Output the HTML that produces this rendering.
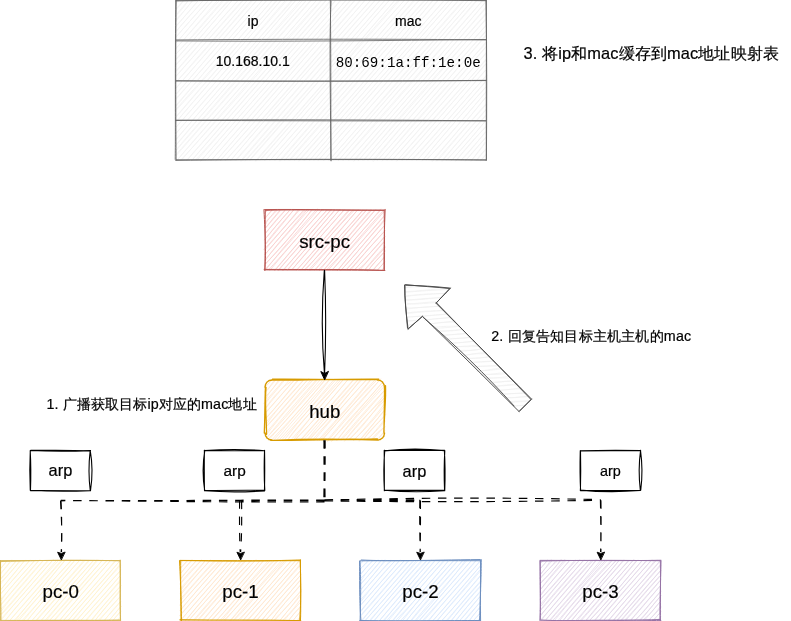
<!DOCTYPE html>
<html><head><meta charset="utf-8"><style>
html,body{margin:0;padding:0;background:#fff;width:791px;height:621px;overflow:hidden}
body{position:relative;font-family:"Liberation Sans",sans-serif;color:#000}
svg{position:absolute;left:0;top:0;will-change:transform}
.t{position:absolute;white-space:nowrap;line-height:1}
.c{transform:translateX(-50%)}
.m{font-family:"Liberation Mono",monospace}
</style></head><body>
<svg width="791" height="621" viewBox="0 0 791 621" stroke-linecap="round" stroke-linejoin="round">
<path d="M176.05 3.33C176.62 2.71 177.52 1.54 178.81 0.49M175.93 3.53C177.03 2.4 177.97 1.33 178.52 0.55M176.42 9.11C178.66 6.86 181.04 4.16 183.39 0.84M175.77 8.93C177.97 6.88 180.27 4.19 183.4 0.5M176.16 15.55C179.81 11.62 183.58 7.78 188.74 -0.14M176.07 14.98C180.28 9.73 185.24 3.9 188 0.83M175.82 19.72C182.56 12.98 190.61 3.6 193.55 -0.41M176.48 20.43C182.48 13.32 187.51 6.76 192.85 0.2M175.08 26.8C181.86 19.86 189.28 11.5 198.14 0.54M176.12 26.5C183.29 17.57 190.81 8.98 198.02 0.98M175.83 31.86C183.28 22.57 192.75 11.97 203.38 0.43M176.24 31.22C184.72 21.34 194.73 10.44 203.08 0.59M175.74 37.53C184.11 27.43 193.5 17 208.16 0.97M175.74 37.03C184.43 27.79 192.48 17.76 207.86 0.83M175.67 43.28C187.24 30.78 196.55 17.9 212.99 -0.12M175.78 43.29C189.34 28.05 202.39 12.03 212.72 0.79M175.84 48.44C187.55 35.73 196.35 25.07 218.59 1.47M175.72 48.86C188.12 34.8 199.8 20.62 217.67 0.23M176.62 53.35C186.74 43.26 196.77 32.18 223.53 0.65M175.8 54.42C185.36 43.43 195.25 32.74 222.57 0.25M175.7 59.29C195.31 38.27 213.81 16.1 228.48 1.11M176.36 59.45C194.89 37.94 213.98 16.43 227.61 0.78M175.25 64.68C188.57 53.43 198.12 39.69 232.17 0.13M175.86 65.23C191.01 47.54 206.52 30.55 232.42 0.08M176.57 70.94C191.17 54.7 204.92 37.54 237.43 0.91M175.75 71.21C193.51 50.69 210.7 30.97 237.82 0.94M175.52 76.75C193.18 56.28 212.49 35.45 242.93 0.84M176.09 76.32C198.6 50.89 221.5 23.75 241.94 0.88M175.24 83.15C193.54 63.56 210.9 43.72 247.84 -0.43M175.61 82.71C201.61 52.89 226.18 24.43 247.57 0.24M176.51 87.88C193.92 67.13 211.85 46.51 251.31 0.5M175.66 88.29C206.38 53.52 236.19 18.76 252.29 0.9M176.83 93.77C194.89 72.54 213.01 50.21 256.45 0.67M176.45 93.53C197.77 68.98 219.23 44.63 256.82 0.22M175.34 99.1C193.25 79.79 210.48 59.99 261.91 0.7M176.06 99.36C201.13 70.43 226.04 41.27 262.41 0.47M176.35 105.93C199.33 78.6 220.34 52.93 266.23 0.91M176.37 104.83C209.28 66.62 242.71 27.13 267.19 0.29M175.01 110.33C201.77 80.57 227.3 50.88 272.67 0.28M176.17 110.27C206.38 77.26 235.17 43.26 271.63 0.77M176.31 116.91C211.15 75.93 247.92 35.07 276.73 -0.27M176.18 116.36C205.93 81.63 236.45 46.56 277.05 0.66M175.66 122.38C199.38 95.15 223.19 67.67 281.19 -0.15M176.04 122.18C198.16 95.48 220.74 70.13 281.1 0.5M175.67 127.38C203.3 96.58 230.47 65.04 285.69 0.04M176.23 127.26C200.48 99.24 225.32 71.69 286.71 0.59M176.06 133.35C201.99 102.64 229.6 71.77 291.97 1.28M176.08 133.35C221.61 81.6 265.91 30.03 291.35 0.6M176.32 138.84C218.27 90.67 259.15 43.02 295.34 0.5M176.46 139.25C215.3 93.52 255.38 47.24 296.13 0.23M175.65 145.24C203.32 112.18 230.63 82.08 302.03 0.93M176.43 144.86C219.72 94.27 263.32 43.52 300.72 0.08M176.4 150.21C207.58 114.52 238.57 78.22 306.59 0.3M175.87 150.01C206.14 114.61 236.55 78.69 305.78 0.78M175.48 155.19C206.75 120.04 236.95 84.42 310.39 0.48M175.92 155.96C204.87 122.84 233.78 89.6 311.39 0.25M177.01 160.23C206.61 125.1 238.11 90.48 316.39 0.44M176.59 160.78C230.96 98.82 284.25 37.26 316.29 0.58M181.12 159.68C209.49 129.16 238.9 96.24 321.62 0.46M181.29 160.33C231.37 102.64 281.09 44.35 321.09 0.16M187.35 159.93C225.92 116.22 264.75 71.42 326.43 0.26M186.58 160.3C226.04 115.08 265.78 69.8 325.59 0.49M191.44 160.95C223.62 123.45 254.94 87.84 330.84 1.17M191.71 160.35C243.54 99.73 295.65 40.59 330.24 0.56M195.95 159.71C227.26 125.05 258.91 88.41 335.02 1.32M196.65 160.59C230.51 121.59 263.92 82.23 335.12 0.79M200.78 161.19C232.2 124.27 263.38 89.31 340.6 0.75M201.4 160.45C249.44 104.62 298.86 48.24 340.13 0.53M205.94 160.47C245.86 114.26 287.76 67.17 345.56 0.69M206.06 160.44C239.83 120.79 273.67 82.57 345.49 0.83M211.18 160.36C267 97.11 322.27 32.8 350.68 0.34M211.49 160.22C265.72 97.04 321.46 32.94 350.32 0.1M215.74 160.93C265.31 104.36 312.72 48.54 354.94 -0.24M216.43 160.92C248.05 123.24 279.51 86.28 355.07 0.52M220.54 160.44C264.69 111.26 306.55 60.92 360.54 -0.36M220.62 160.1C252.09 124.49 283.79 88.46 360.25 0.92M225.7 160.22C254.27 128.05 283.14 94.52 364.46 1.03M225.76 160.61C265.76 116.04 305.33 70.07 364.59 0.73M230.81 160.11C279.91 101.98 330.52 46.27 370.52 0.44M230.81 160.42C276.46 106.53 322.5 53.69 370.24 0.54M236.16 160.42C275.81 114.89 313.85 70.47 374.56 1.12M235.21 160.57C285.9 101.87 336.5 43.58 375.07 0.15M241.22 161.31C287.38 106.55 334.29 53.12 379.41 1.08M240.92 160.34C277.37 117.64 313.75 75.49 380.04 0.13M245.48 160.93C280.66 121.89 314.83 81.44 384.13 1.31M245.23 160.54C275.11 126.07 305.65 91.77 384.87 0.22M249.7 159.72C305.98 95.98 360.41 33.35 390.08 -0.29M249.99 160.4C305.26 97.71 359.05 34.84 389.09 0.37M256.01 161.37C309.94 99.15 362.11 39.11 394.29 0.86M255.45 160.75C292.5 118.63 329.01 76.59 394.35 0.79M260.75 159.94C294.21 122.15 326.21 82.73 398.7 -0.29M259.8 160.07C315.62 96.99 370.76 33.59 399.25 0.73M264.42 160.68C295.06 125.62 325.54 90.33 403.88 0.68M265.34 160.31C319.94 96.48 374.28 33.31 404.33 0.36M269.86 160.46C316.07 107.94 362.64 54.68 408.93 0.71M270.19 160.11C300.1 125.76 329.96 91.52 408.78 0.54M275.22 160.26C326.99 99.78 379.57 39.26 414.2 1.16M274.73 160.6C319.1 109.77 363.33 59.25 413.52 0.53M280.33 161.09C333.87 98.62 386.91 36.58 419.5 0.29M279.48 160.78C320.33 113.18 360.86 66.21 418.4 0.79M284.67 160.38C318.12 123.04 350.71 84.17 424.58 0.84M285.08 160.12C314.44 125.5 344.95 91.19 424.02 0.35M289.03 160.31C328.18 114.88 367.54 69.99 428.68 0.63M289.87 160.53C319.93 126.23 350.45 91.11 428.38 0.32M294.67 160.24C348.29 100.39 401.3 39.29 433.02 -0.27M294.78 160.25C334.86 115.41 374.1 69.54 433.45 0.25M299.15 161.12C333.6 121.75 365.84 84.37 437.88 0.06M299.02 160.25C334.18 120.33 369.15 80.02 438.19 0.65M304.07 160.57C349.66 108.92 394.15 56.41 443.85 1.13M304.61 160.66C345.36 113.38 387.48 65.28 443.78 0.49M309.57 160.65C340.96 123.03 375.05 85.22 448.32 1.14M309.45 160.24C349.06 114.34 389.7 67.64 448.59 0.84M314.5 160.13C355.4 111.08 399.55 61.17 453.11 0.62M313.97 160.16C348.6 120.27 383.52 80.15 453.06 0.23M318.18 160.47C357.51 115.93 396.62 70.15 458.12 1.24M318.59 160.3C370.76 101.22 422.56 41.43 458.03 0.44M324 160.52C357.8 120 394.3 80.61 463.37 1.21M323.63 160.46C354.56 124.89 384.93 89.59 463.1 0.3M329.2 160.51C371.25 111.64 413.43 63.06 467.94 0.65M328.9 160.25C368.25 116.49 407.04 72.37 468.06 0.39M334.42 159.98C362.02 127.65 392.07 93.39 473.18 -0.12M333.38 160.18C376.5 111.3 419.02 61.12 472.39 0.75M338.77 160.08C377.68 114.51 415.63 71.23 477.09 -0.32M338.23 160.77C380.96 111.61 423.24 62.9 477.51 0.26M343.01 160.35C382.75 113.89 423.99 67.81 482.74 0.13M343.21 160.56C372.45 128.13 401.25 95.25 482.77 0.52M348.9 160.5C387.21 116.62 427.32 70.91 485.89 1.53M348.82 160.17C403.88 97.34 458.69 34.42 485.92 1.76M353.95 161.23C392.27 115.57 431.84 70.22 485.64 7.48M353.7 160.09C383.6 126.13 412.87 92.03 486.03 8.07M358.54 160.52C397.48 115.69 434.25 72.67 486.85 13.31M358.15 160.6C401.36 110.13 445.81 59.77 485.97 13.23M364 160.45C395.66 121.48 428.74 82.9 486.17 19.33M362.77 160.5C393.81 126.27 424.64 90.62 485.93 18.65M368.44 160.04C407.99 113.07 448.84 66.78 486.28 25.2M367.87 160.5C393.62 130.26 419.63 100.74 486.22 25.16M373.32 161.46C398.68 129.63 427.22 97.24 486.19 31.28M372.83 160.15C401.4 126.72 430.85 92.56 485.94 30.82M377.43 160.27C406.49 128.36 431.84 98.36 485.49 35.47M377.63 160.3C419.78 111.87 462.06 63.49 486.01 35.83M383.34 159.64C419.65 115.97 457.43 73.83 486.81 42.5M382.26 160.9C415.11 123.34 447.97 86.23 486.42 41.48M387.4 160.19C421.12 122.61 453.08 83.98 486.15 46.36M387.43 160.11C424.43 118.5 461.35 75.93 485.79 47.29M392.47 159.74C425.17 122.68 459.05 83.49 486.03 53.64M392.02 160.54C418.35 131.04 444.04 101.43 486.22 52.63M396.76 161.09C432.43 118.95 468.1 80.08 486.69 59.34M397.02 160.76C432.89 120.5 468.31 80.4 486.18 58.96M401.49 159.67C429.29 129.92 454.88 99.6 485.42 64.66M402.03 160.7C419.91 140.27 437.3 120.37 485.51 63.92M407.39 159.76C431.69 132.76 455.25 105.36 485.27 70.32M406.95 160.16C435.65 127.98 463.5 95.44 486.2 69.69M411.71 159.65C432.49 138.04 451.57 114.67 486.92 75.37M412.22 160.36C430.88 140.08 448.37 119.41 486.1 75.62M417.68 159.88C438.2 136.37 458.95 112.19 485.97 81.03M416.65 160.56C440.94 133 464.16 106.04 486.46 81.1M422.55 160.84C441.14 137.2 462.18 113.33 486.58 86.42M421.92 160.86C438.42 141.22 454.54 122.36 485.86 86.82M426.14 159.69C443.81 142.59 458.53 124.51 486.27 91.55M426.47 160.29C447.48 136.72 468.78 112.6 485.65 92.35M432.41 161.36C450.87 139.25 469.9 117.3 485.61 97.31M431.97 160.4C444.73 146.24 457.35 131.59 485.54 97.83M437.39 160.98C451.04 145.26 463.41 129.34 486.5 104.34M436.36 160.88C449.74 145.03 463.75 129.02 486.07 103.68M442.27 161.27C458.12 141.04 476.9 121.29 486.52 109.13M441.79 160.57C452.51 148.14 462.71 136.35 486.16 109.22M446.47 160.07C459.77 147.01 471.68 131.59 485.39 115.45M446.65 160.52C460.66 144.11 475.15 127.58 486.25 115.47M451.65 160.66C459.72 150.55 467.3 142.87 486.17 120.25M451.09 160.93C463.02 147.55 474.19 134.55 486.02 120.29M455.41 161.14C466.23 147.83 478.24 134.1 485.84 127.04M456.1 160.9C465.87 148.86 476.11 137.73 485.75 126.54M461.32 160.2C467.19 154.68 472.38 147.91 485.64 131.72M460.84 160.23C471.2 148.93 480.48 138.11 485.67 132.38M465.46 161.07C471.59 153.2 476.66 147.48 486.12 137.15M465.63 160.35C473.81 152.1 480.4 143.42 486.14 137.32M471.19 161.14C476.41 153.05 481.73 147.63 485.05 142.4M471.28 160.56C476.62 154.47 481.67 148.03 485.52 142.77M476.58 160.62C478.76 158.23 480.5 155.3 486.71 148.46M476.08 160.43C478.18 157.53 480.18 155.14 486.19 148.51M480.54 160.76C483.06 158.51 484.8 155.98 485.83 154.73M480.58 160.68C481.82 158.98 482.96 157.63 485.91 154.55M485.67 160.51C485.79 160.33 485.91 160.19 485.98 160.12M485.66 160.49C485.74 160.4 485.83 160.29 486.01 160.1" fill="none" stroke="#f2f2f2" stroke-width="0.85" />
<path d="M176.04 0.86C297.88 -0.92 419.27 -0.37 485.95 0.73M175.74 0.65C294.46 0.12 412.37 -0.43 486.34 0.41M485.88 0.62C487.12 54.98 486.73 108.93 486.42 160.21M486.47 0.61C486.37 56.08 486.2 111.46 486.34 160.21M485.83 159.99C370.59 158.84 254.92 159.25 175.7 160.41M485.67 159.98C419.45 159.39 352.77 159.61 176.2 159.75M175.21 159.36C175.67 127.3 175.01 96.25 175.7 0.81M176.13 159.81C175.67 98 175.62 35.69 176.25 0.2M175.64 40.9C281.63 41.69 388.58 40.61 486.19 39.49M176.28 39.94C290.59 39.01 405.5 38.97 485.69 39.92M175.92 80.77C291.12 81.73 406.26 81.06 486.52 80.33M176.28 80.93C248.7 80.99 321.29 81.38 485.96 80.59M175.47 120.48C249.13 119.6 321.9 119.42 485.56 120.86M176.3 120.19C293.37 121.04 411.45 121 485.72 120.74M331.08 1.01C329.4 38.09 330.05 73.29 331.08 160.86M330.33 0.3C330.71 33.86 330.92 67.69 330.86 160.21" fill="none" stroke="#666666" stroke-width="0.85" />
<path d="M265 212.97C265.65 212.03 266.63 211.23 267.38 209.92M264.9 213.04C265.65 212.32 266.13 211.58 267.45 210.01M264.44 218.08C266.45 216.82 268.04 214.86 272.06 210.19M265.29 218.32C267.2 215.6 268.97 213.22 271.8 210.16M265.89 223.97C267.22 219.03 272.22 215.81 277.49 209.8M264.78 222.9C267.3 220.86 270.19 217.19 276.32 209.61M265.13 228.37C267.67 225.13 270.94 221.02 280.22 209.83M265.33 228.27C269.37 223.6 272.73 219.82 281.22 209.56M265.6 233.29C272.81 223.37 280.54 215.07 285.01 210.22M264.98 233.75C271.06 226.72 275.92 221.03 285.92 209.72M264.33 239.84C271.73 232.09 276.69 224.13 289.06 211.02M265.36 238.95C270.92 231.41 277.6 224.15 289.78 210.07M265.92 243.38C274.85 230.99 286.76 217.92 293.87 209.71M265.43 244.56C274.61 233.59 283.83 222.28 294.07 209.47M263.95 249.51C277.9 234.57 290.56 220.18 298.15 210.1M265.22 249.54C277.13 235.34 288.72 222.32 299.5 209.91M265.27 254.14C278.82 238.71 291.54 222.87 304.68 210.84M265.09 254.33C278.77 238.49 292.01 223.09 303.7 209.98M265.25 260.5C274.96 246.31 285.66 235.57 307.44 209.27M265.43 259.39C281.52 240.38 297.69 222.15 308.55 210.42M264.2 264.75C278.87 250.46 291.78 235.52 312.11 209.27M264.91 264.9C278.94 248.82 293.13 233.67 312.55 209.53M265.46 270.1C275.08 258.48 285.2 244.67 317.01 208.95M264.5 270.09C284.18 248.36 303.48 226.62 317.61 210.2M268.38 269.94C282.45 255.09 293.99 241.06 322.05 210.04M269.78 270.45C285.67 251.16 303.21 230.91 321.56 210.14M274.8 270.65C294.94 246.96 314.22 223.47 326.61 210.7M274.4 270.53C291.47 250.51 308.39 230.57 326.57 210.39M278.58 270.59C292.78 252.81 307.55 236.71 331.28 209.28M278.08 270.02C292.45 254.56 306.34 238.66 330.61 210.49M282.51 270.5C294.79 257 306.57 244.05 334.71 209.74M283.36 270.52C301.98 248.1 320.87 225.92 335.13 210.12M287.26 270.66C298.03 257.64 309.03 244.37 339.72 209.81M287.45 269.59C307.54 247 328.46 223.14 339.43 209.66M292.6 268.95C307.9 250.2 325.87 230.99 343.82 210.26M291.99 269.73C303.02 256.99 314.81 243.56 344.04 210.03M296.79 270.07C309.55 256.25 321.66 241.5 349.17 210.68M296.95 269.69C317 247.7 335.9 224.16 348.89 209.74M301.63 269.18C312 257.29 322.6 243.06 353.55 210.91M301.27 270C321.98 246.03 341.84 222.32 352.64 210.06M304.8 269.35C322 253.1 337.99 232.96 356.69 210.99M305.46 270.02C320.5 252.67 335.29 235.23 358.03 209.65M309.33 269.26C325.04 251.54 341.04 235.82 362.61 210.79M310.01 270.53C327.4 250.12 344.51 231.11 362.46 210.35M314.93 270.59C329.49 252.71 344.06 235.1 366.31 209.93M314.64 269.71C325.63 257.98 335.51 245.84 366.74 210.04M319.45 270.58C334.23 252.19 347.93 237.09 370.63 209.78M318.57 269.73C330.62 257.52 341.14 245.37 371.24 210.54M323.73 270.57C339.4 251.53 356.74 230.87 374.95 209.99M323.43 270.03C340.72 250.26 357.19 231.25 375.74 209.76M327.46 268.99C345.31 250.24 363.73 229.95 380.72 209.01M328.47 269.92C348.45 246.9 368.94 222.54 380.66 210.25M332.75 269.15C347.75 252.16 362.09 233.72 384.56 209.38M332.26 270.09C347.33 253.08 362.45 236.07 385 210.47M337.66 270.27C348.71 255.77 361.18 242.89 384.7 215.69M337.56 270.46C354.28 250.48 370.03 231.58 384.42 215.53M340.63 270.39C351.1 259.59 360.18 248.36 383.86 220.23M341.12 270.34C356.48 253.25 371.02 235.62 384.23 220.92M345.66 270.11C357.04 258.61 366.87 245.28 383.61 226.58M346.02 270.2C354.32 260.73 362.37 250.57 384.68 225.3M350.07 269.21C358.99 260.24 367.86 248.72 384.96 231.09M350.48 270.33C363.17 254.66 376.3 240.35 384.93 230.66M354.82 269.75C362.45 260.96 371.8 251.68 385.24 236.26M354.81 269.47C361.9 261.95 368.89 254.45 384.67 236.46M358.64 269.08C365.37 264.69 369.24 258 383.72 241.85M359.85 270.02C368.15 260.5 375.91 251.67 384.69 241.3M364.97 269.8C371.01 263.09 377.35 256.17 385.23 247.34M364.29 270.33C371.94 260.7 379.64 251.85 385.04 246.35M368.11 271.03C371.38 265.31 375.22 261.78 385.11 250.97M369.02 269.49C371.53 265.74 375.03 261.91 384.74 251.77M372.44 270.49C375.55 266.9 379.32 263.55 384.04 257.6M373.51 269.98C377.2 264.53 382.27 260.22 384.39 256.88M377.76 269.7C379.13 267.52 381.65 265.48 384.75 262.16M377.44 270.21C379.22 268.25 381.1 266.19 384.52 261.83M382.22 270.13C382.78 268.91 383.9 267.86 384.49 267.21M382.04 270.06C383.01 268.99 383.89 267.88 384.44 267.23" fill="none" stroke="#f8cecc" stroke-width="0.75" />
<path d="M264.59 209.58C300.53 209.14 337.86 210.04 384.19 210.41M265.51 210.36C291.6 209.51 317.72 210.28 384.21 210.07M385.16 209.35C384.43 227.04 383.9 245.08 384.06 269.64M384.17 210.25C384.42 227.2 384.68 243.66 384.31 270.36M384.89 270.46C357.69 269.25 333.03 269.67 264.1 269.4M384.03 270.46C356.77 269.89 329.35 270.17 265.35 269.87M264.78 270.44C266.12 254.66 265.41 238.29 263.94 209.63M264.87 270.01C265.22 254.25 265.02 237.41 265.29 210.44" fill="none" stroke="#b85450" stroke-width="1.0" />
<path d="M264.25 387.17C266.71 385.48 269.43 382.77 271.36 380.39M265.31 387.02C266.69 385.42 268.02 383.96 271.2 380.41M265.02 391.46C268.61 391.1 268.5 387.16 274.93 379.5M264.4 392.11C269.02 388.31 272.03 384.5 275.87 379.85M266.52 398.25C267.65 393.52 271.9 390.86 279.17 379.15M265 396.97C269.71 392.7 273.43 387.54 280.29 379.82M263.97 403.54C270.72 394.06 278.76 387.09 283.48 379.87M265.73 402.88C270.62 396.85 275.39 391.62 284.42 380.4M265.87 407.59C273.73 395.87 282.43 387.08 290.97 381.6M265.46 408.62C272.78 399.28 279.94 391.23 289.62 379.62M264.33 414.47C275.34 401.9 287.36 388.15 294.58 379.09M265.31 412.68C273.18 404.51 279.58 395.98 294.69 380.1M265.83 418.19C275.89 407 287.39 393.47 297.94 379.58M265.34 419.1C277.04 406 288.83 392.07 298.89 379.81M266.39 424.24C273.57 414.56 280.57 404.69 303.58 379.66M265.3 423.07C273.86 412.57 284.28 402.42 303.19 380.7M264.82 427.8C277.49 414.99 287.71 401.61 308.86 378.42M264.89 428.37C277.39 415.74 288.58 401.92 307.38 380.17M266.3 434.88C281.75 414.13 300.7 393.84 312.5 380.52M264.92 434.19C283.29 412.45 301.8 390.91 311.36 379.56M267.6 436.63C283.64 420.29 297.28 403.47 317.72 379.43M266.8 437.77C277.58 424.33 288.56 411.08 316.26 379.82M268.34 438.66C284.96 423.15 296.49 407.51 322.15 381.03M268.7 440.03C283.64 422.99 297.75 406.53 320.65 379.22M272.65 439.01C284.83 425.17 299.22 412.06 324.19 380.59M273.55 440.48C289.39 421.76 305.35 403.32 325.28 379.86M279.17 439.97C294.56 422.59 310.7 404.37 329.73 379.7M277.21 439.3C293.71 419.76 310.4 400.35 329.56 379.38M283.79 440.79C301.22 417.88 316.49 400.53 334.39 379.06M282.02 439.59C300.05 419.05 319.76 398.58 334.89 380.69M287.14 440.54C299.66 422.43 315.38 407.69 340.02 380.82M287.6 439.98C300.42 423.82 314.94 407.32 338.54 379.82M292.77 440.78C307.71 420.36 324.05 402.03 343.9 378.95M291.13 439.7C307.15 422.15 323.26 402.79 343.42 379.48M295.4 439.52C312.11 422.7 324.78 407.06 347.66 380.05M295.19 439.6C313.92 420.87 330.89 399.79 347.89 379.65M300.77 440.44C320.08 418.09 340.47 395.93 353.89 379.65M300.74 439.58C315.8 422.6 331.04 404.91 352.68 380.34M306.09 440.93C318.81 425.63 334.59 406.75 358.07 379.75M304.12 439.28C318.17 423.99 331.94 407.92 357.53 379.81M308.21 439.13C325.94 423.07 341.72 403.96 361.07 379M309.81 439.62C329.07 417.68 348.32 394.29 361 380.54M312.32 439.98C332.45 417.66 350.73 397.26 366.08 380.2M313.92 440.56C332.48 418.49 351.14 396.22 366.05 380.2M319.31 440.79C339.46 417.08 360.72 393.49 370.99 379.56M317.62 440.76C331.6 425.04 345.02 410.18 370.56 379.48M321.97 439.69C342.08 416.99 360.84 396.41 375.82 381.04M322.75 439.47C340.56 418.97 359.37 397.12 375 379.86M327.46 441.56C342.34 423.51 355.98 407.75 380.62 378.93M327.69 439.53C340.02 424.88 353.6 407.89 379.11 380.85M331.67 441.32C347.76 418.85 366.76 402.01 382.83 381.9M331.22 439.97C344.91 427.07 356.44 412.68 382.27 382.4M336.94 440.29C351.18 420.9 368.37 401.14 383.16 384.79M337.15 440.29C347.52 427.11 358.55 413.82 384.86 385.74M341.01 438.93C354.59 423.97 368.49 406.27 385.24 389.77M341.58 440.17C357.95 421.41 373.56 403.12 384.49 390.47M344.58 441.15C353.75 428.31 362.4 418.61 385.93 396.21M345.91 439.4C358.02 425.16 372.14 409.73 383.8 395.65M349.25 439.06C356.52 433.52 364.79 424.26 383.18 399.15M349.13 439.73C359.4 428.9 366.96 418.76 385.12 399.81M353.33 440.3C365.74 429.21 375.13 417.63 384.2 406.81M354.03 440.31C366.26 426.54 377.6 413.64 383.71 404.7M359.47 441.16C365.52 433.55 369.97 428.45 385.11 409.25M359.2 440.39C369.25 428.6 378.08 418.14 383.78 411.15M364.09 438.96C367.83 432.29 373.36 427.69 386.06 414.15M363.15 439.37C369.51 432.59 375.09 425.29 385.18 416.08M367.03 438.75C375.94 432.96 381.69 423.66 385.43 421.03M368.1 439.35C370.94 436.12 374.98 431.54 383.92 420.4M371.38 439.84C374.91 434.61 379.59 430.41 385.19 426.89M372.3 439.87C375.81 435.85 379.88 431.29 384.76 426.81M377.43 440.15C378.75 438.06 380.73 436.39 384.59 431.1M377.17 439.84C379.58 436.86 381.83 434.29 384.71 430.88" fill="none" stroke="#ffe6cc" stroke-width="0.75" />
<path d="M377.36 380.03C378.28 380.09 378.61 380.28 380.14 380.51M377.61 380C378.17 380.22 378.87 380.15 380.27 380.45M380.27 380.56C381.05 381.19 381.94 381.79 382.54 381.83M380.19 380.54C380.85 380.95 381.76 381.42 382.54 381.97M382.43 382.18C382.82 382.55 383.1 383.51 383.79 384.4M382.49 381.99C382.88 382.89 383.37 383.53 383.96 384.38M383.98 384.14C384.21 385.29 384.49 386.26 384.33 386.95M383.87 384.26C384.11 385.3 384.27 386.38 384.46 386.89M385.51 385.68C386.01 399.54 384.55 410.28 383.88 431.88M384.41 387.16C384.8 396.6 384.2 405.99 383.98 433.15M384.36 433.14C384.29 433.9 384.3 434.95 383.79 435.66M384.59 433.06C384.36 433.76 384.27 434.32 383.92 435.6M384.06 435.89C383.25 436.59 382.73 437.47 382.56 438.07M383.88 435.7C383.57 436.36 382.99 437.16 382.48 437.91M382.31 438.03C381.97 438.43 381.35 438.71 380.09 439.63M382.53 438.02C381.8 438.37 381.23 438.73 380.07 439.48M380.01 439.45C379.36 439.6 378.41 439.89 377.63 440.1M380.16 439.51C379.46 439.64 378.74 439.75 377.46 440.09M377.39 438.96C343.93 439.87 308.93 440.08 270.82 440.47M378.25 440.19C339.59 438.77 302.38 438.98 272.64 440.35M271.88 440.03C271.48 439.81 270.83 439.6 269.15 439.62M272.02 439.94C271.18 439.87 270.56 439.72 269.25 439.55M269.16 439.47C268.64 439.11 267.9 438.5 266.93 437.98M269.37 439.45C268.79 439.1 268.19 438.79 266.97 438.01M266.85 438.12C266.35 436.87 265.72 436.22 265.61 435.86M267.13 438.02C266.65 437.28 266.09 436.51 265.43 435.79M265.54 435.61C265.43 435.06 265.39 434.4 264.93 433.07M265.63 435.68C265.45 434.87 265.35 434.12 265.07 433.03M266.56 434.27C266.38 415.88 264.56 400.89 266.04 387.29M264.29 433.04C264.92 418.82 264.81 404.02 265.43 387.13M264.96 387.09C265.14 386.46 265.4 385.61 265.54 384.21M265.07 387C265.16 386.15 265.27 385.38 265.51 384.32M265.62 384.34C266.05 383.59 266.69 382.42 267.08 382.12M265.62 384.28C265.97 383.71 266.31 383.04 266.96 382.12M267.08 382.05C267.79 381.49 268.14 381.43 269.45 380.34M267.01 382.1C267.66 381.5 268.44 381.07 269.43 380.52M269.43 380.39C270.11 380.17 271.35 379.95 271.81 379.95M269.26 380.6C269.84 380.39 270.43 380.38 271.9 380.07M272.8 380.05C295.64 380.5 317.06 378.93 378.81 379.1M272.46 379.26C298.81 379.02 324.45 379.66 377.1 379.72" fill="none" stroke="#d79b00" stroke-width="1.3" />
<path d="M0.37 563.18C1.17 562.23 2.22 561.25 2.94 560.38M0.52 563.19C1.08 562.49 1.83 561.9 2.99 560.57M0.22 568.88C2.86 565.96 5.37 562.8 7.27 560.42M0.67 568.75C2.47 566.38 4.32 564.05 7.53 560.47M0.03 573.58C3.44 570.36 5.22 567.44 11.43 559.99M0.64 574.09C3.15 570.77 6.4 566.98 11.59 560.79M0.31 579.65C7.18 572.82 11.54 566.19 16.16 560.98M0.74 578.52C4.16 574.74 7.75 570.32 16.69 560.33M-0.35 583.41C4.94 578.2 11.3 571.89 19.93 560.37M1.05 583.6C5.88 577.56 11.7 571.03 20.91 560.35M0.49 590.23C9.85 578.66 19.34 567.74 24.42 560.5M0.7 589.58C9.69 578.4 19.33 567.05 25.22 560.17M-0.41 594.95C8.85 584.17 17.19 575.43 29.91 560.62M0.1 594.78C8 585.73 15.97 576.12 29.83 559.99M1.33 600.64C7.22 590.85 15.07 582.62 34.07 561.36M0.22 599.97C10.77 587.65 21.51 575.43 34.79 560.19M0.54 605.67C13.51 589.52 27.12 574.9 39.84 559.65M0.54 604.53C9.74 594.33 17.53 584 38.45 560.75M1.6 610.61C9.73 599.08 20.14 588.34 43.01 561.08M0.47 609.68C10.45 598.67 19.13 587.24 43.2 560.32M1.28 614.93C20.13 594.35 37.4 572.09 47.89 561.38M0.47 614.77C15.35 597.88 30.22 581.26 47.54 560.6M0.55 621.03C13.21 605.2 27.76 588.87 53.49 559.45M0.12 619.8C20.1 598.3 39.19 575.54 52.6 560.22M5.4 620.15C20.5 601.18 37.52 583.64 57.9 561.03M5.18 620.86C16.23 607.29 27.7 593.94 56.72 560.1M9.64 620.74C27.3 600.65 46.11 579.06 62.18 560.5M9.27 621C25.61 601.58 42.64 582.73 61.35 560.04M14.46 621.57C29.2 602.38 44.88 585.39 65.07 559.87M14.35 620.18C26.38 606.64 37.53 593.64 65.54 560.07M17.71 619.75C29.34 607.46 41.18 592.89 70.64 561.34M18.67 620.89C35.14 599.98 52.96 580.58 70.52 560.81M22.68 619.94C34.48 606.63 47.33 593.26 74.52 560.97M23.24 621.01C33.92 607.87 45.32 594.15 74.57 560.44M27.18 620.96C38.15 606.83 49.96 592.86 80.36 559.59M27.29 620.41C38.25 606.56 50.15 593.61 79.13 560.95M32.4 619.64C43.11 608.26 53.5 596.87 84.67 560.72M32.21 620.63C50.19 598.7 69.11 577.82 83.94 560.27M36.57 620.63C53.28 601.51 68.96 583.53 89.01 561.04M36.02 620.22C55.98 597.78 76.21 574.58 88.35 560.76M41.46 620.35C56.01 602.21 70.86 586.35 93.54 560.64M40.81 620.75C56.14 603.2 71.27 585.83 93.53 560.04M46.33 620.53C65.88 595.93 87.05 573.58 96.96 559.65M45.33 619.99C60.26 602.92 74.97 586.21 98.04 560.11M50.02 620.05C68.87 600.27 87.52 577.72 102.26 559.95M49.4 620.53C65.09 602.83 80.26 584.63 102.17 560.74M53.6 620.78C74.26 596.84 92.87 574.33 106.59 561.13M54.63 620.51C71.82 600.34 89.75 579.47 106.49 560.78M59.26 621.19C69.95 607.85 81.94 593.47 110.55 560.58M59.2 620.59C77.58 598.82 96.45 577.63 110.79 560.1M64.25 619.64C82.73 598.46 102.99 576.53 114.84 560.65M63.36 620.74C83.52 597.65 102.88 575.1 115.98 560.79M68.89 619.74C87.19 597.22 106.59 576.27 119.58 561.19M67.98 620.37C82.38 603.45 98.19 586.63 120.26 560.42M71.57 620.76C83.02 607.72 93.92 595.89 119.77 564.79M72.33 620.95C89.14 600.99 106.34 580.21 120.78 565.47M76.94 619.85C90.75 604.62 105.24 586.15 120.18 571.22M76.37 620.76C92.34 602.57 109.16 583.24 120.75 570.07M80.96 620.63C88.9 610.42 98.82 601.46 119.67 576.4M81.05 620.05C90.37 610.52 98.5 600.71 120.09 575.74M85.7 620.21C99.33 604.19 112.65 589.69 120.46 579.77M86.28 620.63C93.83 611.29 101.7 602.24 120.52 581.21M91.36 621.19C97.99 611.83 104.34 604.21 121.27 585.67M90.5 620.9C99.32 610.23 108.18 599.65 120.26 586.27M94.57 621.3C104.5 608.3 114.66 596.53 119.72 590.49M94.7 620.6C102.72 610.4 111.76 601.1 120.34 590.99M98.86 619.55C104.49 614.57 107.9 609.97 119.85 596.84M99.48 620.42C107.11 610.95 115.96 601.42 120.81 596.21M103.4 621.39C108.1 615.78 112.36 611.42 121.01 601.32M104.05 620.91C108.43 615.14 112.72 609.78 120.12 601.91M108.29 621.12C112.97 616.76 115.58 611.78 121.4 606.4M108.45 620.91C112.96 616.18 116.3 611.73 120.92 606.2M112.62 620.86C114.73 618.11 116.64 615.52 121.09 611.18M112.95 620.37C114.46 618.69 116.31 616.58 120.62 611.56M117.45 620.64C118.48 619.52 118.95 618.34 120.59 616.91M117.4 620.53C118.43 619.38 119.26 618.36 120.46 616.89" fill="none" stroke="#fff2cc" stroke-width="0.75" />
<path d="M-0.15 561.42C28.99 560.98 56.88 559.44 119.59 560.77M0.06 560.66C41.41 560.44 81.59 560.43 119.98 560.6M120.25 560.17C120.43 576.23 119.89 591.64 120.43 621.58M120.11 560.31C120.81 582.5 119.83 604.93 120.6 620.51M119.86 620.68C74.3 620.33 26.78 619.77 1.26 621.58M120.12 620.01C82.58 620.73 44.62 620.46 0.9 620.4M0.92 620.55C1.27 604.26 -0.34 585.59 0.43 560.97M0.27 620.69C0.05 605.5 0.69 591.1 0.51 560.68" fill="none" stroke="#d6b656" stroke-width="1.0" />
<path d="M180.41 563.08C181.38 562.31 182 561.41 182.78 560.61M180.47 563.13C181.09 562.59 181.48 561.98 182.86 560.43M180.02 568.02C183.34 565.66 185.61 563.11 187.45 560.93M180.58 568.17C182.61 565.91 185.15 562.87 187.3 560.34M181.1 572.76C184.16 568 189.11 563.48 191.88 559.73M180.46 573.52C183.77 569.76 186.8 565.79 191.58 560.85M180.95 578.88C185.67 572.17 193.85 564.48 196 560.65M180.16 578.86C186.66 571.42 192.71 564.11 196.13 561.03M180.19 583.36C185.99 575.6 192.8 568.36 201.66 559.98M180.27 584.19C185.41 578.03 190.74 572.61 201.13 560.51M181.51 589.19C190.29 578.18 199.76 568.31 204.79 561.45M180.06 588.76C188.06 580.36 194.89 572.3 205.4 560.37M180.34 593.45C190.46 581.48 202.05 569.42 210.22 559.89M180.98 594.44C190.17 582.69 199.68 571.81 209.82 560.98M181.46 599.54C192.42 585.67 205.77 571.4 215.18 561.22M180.29 599.05C193.63 584.39 206.3 569.2 214.67 560.49M179.95 605.03C192.64 589.85 205.14 576.88 219.94 561.44M180.44 604.46C195.39 587.38 209.1 571.62 219.2 560.73M180.37 610.7C196.41 590.11 214.4 571.49 223.2 560.9M179.98 610.21C197.39 590.42 214.31 570.72 223.06 560.21M179.6 615.8C192.3 600.41 204.45 588.18 228.2 561.1M180.64 615.22C193.81 599.21 207.86 583.7 227.99 560.47M181.22 619.76C198.09 599.54 216.2 579.08 231.88 561.39M180.7 620.16C196.79 601.72 213.06 583.2 232.71 559.98M184.92 621.39C200.32 602.41 216.4 584.77 236.55 560.17M185.08 621.05C203.95 597.81 223.14 576.54 236.52 560.17M188.63 620.25C208.39 597.94 227.48 577.15 241.98 561.08M188.95 620.6C199.93 607.44 211.76 594.34 241.43 560.09M192.81 621.04C212.19 598.08 231.93 576.48 245.03 560.44M193.92 621.02C209 603.54 224.32 585.2 245.84 561.02M198.13 619.43C215.75 599.14 234.72 577.19 250.42 561.12M197.89 621.01C217.97 597.26 238.5 574.39 250.9 560.72M202.84 620.93C222.84 596.33 243.13 572.82 255.92 559.66M202.43 620.23C215.33 605.22 228.85 591.02 254.7 560.94M206.66 621.18C224.4 600.43 240.73 582.63 259.41 561.48M207.68 620.45C222.8 603.49 238.24 586.4 259.89 560.5M212.06 619.46C232.85 597.41 251.57 574.41 263.52 560.58M211.48 621C230.8 598.92 250.13 577.24 263.79 560.39M216.28 620.66C229.61 606.31 241.89 591.93 269.4 561.46M216.66 620.47C234.45 599.89 251.91 578.91 268.67 560.27M221.75 620.86C235.62 603.32 250.81 584.26 273.86 561.26M220.26 620.28C237.63 601.04 253.6 582.42 272.6 560.91M224.2 619.89C236.89 607.77 248.27 593.81 278.1 560.76M224.75 620.89C244.17 598.06 263.71 576.67 276.89 560.65M230.28 621.23C241.99 607.14 252.35 595.31 282.63 561.53M230.09 620.51C244.6 603.42 258.8 586.42 281.43 560.69M234.34 620.1C249.35 605.28 262.18 588.4 285.34 560.18M233.76 619.97C254.53 595.9 276.02 573.05 286.73 560.62M238.56 619.67C253.96 604.22 267.41 588.34 290.5 561.32M238.93 620.94C257.16 599.9 275.04 578.94 291.41 560.92M243.03 620.13C261.62 599.73 278.01 580.4 296.26 559.88M243.57 620.26C254.61 607.02 266.44 593.57 295.52 560.85M246.9 620.44C266.14 599.16 283.49 580.93 299.47 560.1M247.93 620.52C265.2 600.13 283.09 580.69 299.63 560.7M253.01 619.63C267.3 603.52 281.1 586.39 299.77 564.84M252.71 620.98C261.92 609.25 271.97 597.73 300.47 565.32M257.46 619.8C269.29 605.81 280.82 592.1 300.86 570.41M256.78 620.09C267.28 607.59 279.34 594.56 300.74 570.32M262.25 619.71C274.69 603.53 290.36 587.72 300.92 574.79M261.39 620.72C272.9 606.58 284.07 593.4 300.76 575.09M265.53 620.48C277.07 609.44 286.28 596.56 299.93 580.28M265.48 620.39C276.3 607.97 286.32 596.29 299.97 580.96M270.29 621.48C279.8 607.81 290.32 597.2 300.86 584.96M270.65 620.8C280.22 608 290.52 596.56 299.99 585.39M274.3 619.73C279.61 613.4 286.18 608.94 301.19 590.03M275.14 619.96C282.98 611.31 291.13 601.11 301.02 591.31M279.59 620.97C284.93 614.19 290.86 607.88 299.56 595.39M279.84 620.58C283.65 615.49 289.53 609.11 300.57 595.86M283.23 619.85C287 615.6 292.47 611.09 299.8 600.36M284.32 620.25C289.57 614.23 295.29 607.15 300.96 601.88M289.01 620.18C292.29 616.13 293.71 613.44 300.51 607.07M287.93 620.96C291.18 617.06 293.74 613.96 300.45 606.33M293.38 620.83C294.83 617.6 298.26 614.21 301.06 611.2M292.54 620.48C294.65 618.51 296.6 616.64 300.18 611.63M297.44 620.47C298.03 619.69 298.67 618.91 300.55 617.04M297.31 620.62C298.53 619.09 299.66 617.87 300.5 616.85" fill="none" stroke="#ffe6cc" stroke-width="0.75" />
<path d="M180.15 560.4C217.46 560.65 255.61 560.93 300.54 560.66M180.12 560.54C213.59 561.03 247.11 561.56 300.66 559.97M300.2 561.37C301.02 580.36 301.17 600.45 299.73 620.96M300.47 560.09C300.34 582.38 301.13 605.46 300.48 620.7M300.48 620.59C259.54 619.57 219.3 620.5 179.91 619.68M300.85 620.75C258.25 620.89 216.21 621.33 180.07 621.04M181.47 621.33C181.2 607.25 181.19 592.96 179.5 560.7M181.03 620.09C180.99 605.6 180.55 591.62 180.7 560.37" fill="none" stroke="#d79b00" stroke-width="1.0" />
<path d="M360.74 563.59C361.26 563.25 361.83 562.73 363.27 560.42M360.43 563.91C361.59 562.77 362.42 561.66 363.39 560.43M360.58 568.84C362.75 567.1 364.99 563.97 368.35 561.11M360.28 568.81C362.93 566.63 365 563.84 367.89 560.74M360.44 574.87C363.29 571.04 365.8 567.59 373.3 560.21M360.32 574.6C363.31 570.71 365.98 567.79 372.7 560.47M361.25 580.32C364.69 574.72 366.81 571.84 377.89 559.75M360 578.89C365.8 573.7 370.31 568.27 377.01 560.71M360.13 584.88C365.6 578.29 371.37 573.04 381.62 560.09M360.93 584.02C368.23 575.53 375.54 566.96 381.02 560.22M360.91 589.33C370.25 578.24 381.19 566.04 384.95 559.78M360.87 589.82C369.7 579.4 378.94 567.64 385.75 560.76M360.27 595.56C368.68 584.75 378.27 573.82 391.17 560.84M360.36 594.63C369.99 583.99 378.96 573.13 390.39 560.12M361.3 601.18C372.49 586.44 383.39 572.3 394.43 561.6M360.81 599.66C367.78 591.31 375.12 583.55 395.17 560.54M361.3 604.31C375.13 588.38 390.81 571.39 399.58 560.5M360.61 605.21C371.94 592.52 384.07 578.53 399.92 559.98M360.87 611.56C372.1 597.22 382.4 583.89 403.86 561.14M360.65 610.75C372.04 597.12 384.43 582.7 404.46 560.58M361.07 615.66C375.6 599.46 390.22 581.88 409.24 560.39M360.08 616.08C371.76 602.22 382.91 589.96 408.06 560.68M361.88 620.84C374.6 605.13 386.74 590.72 413.64 560.94M361.13 620.91C376.34 602.72 391.24 585.81 412.81 560.68M365.68 619.9C377.32 606.56 388.83 594.79 416.92 559.93M365 620.83C378.83 605.3 391.42 590.83 417.95 560.57M370.27 620.77C386.28 600.95 402.16 582.97 421.64 560.27M369.6 620.35C385.77 602.69 401.32 583.43 422.35 560.93M373.35 621.43C393.28 597.63 412.89 575.37 426.22 560.73M374.13 620.85C392.75 598.64 411.84 577.91 426.88 561.01M379 621.14C389.7 608.54 401.08 595.56 430.73 559.93M379.28 620.88C396.61 599.58 413.97 579.27 430.62 560.97M383.88 621.19C401.97 597.47 421.45 576.66 434.91 560.38M383.45 620.37C402.13 599.58 420.2 578.62 435.6 560.14M387.53 619.81C406.69 597.93 427.33 573.97 439.94 560.93M388.19 621.05C399.99 606.64 410.96 592.96 439.61 560.89M392.24 621.6C406.89 604.19 420.05 587.01 444.9 560.37M392.7 620.35C408.08 601.2 425.48 582.2 444.07 560.03M396.52 619.5C418.39 597.16 438.57 573.24 447.93 561.15M397.33 621.03C413.77 600.8 430.94 581.52 448.95 560.55M402.24 621.13C420.52 597.11 441.5 573.26 453.21 561.24M400.95 620.36C418.35 601.42 435.02 582.14 453.28 561M406.59 620.29C418.95 605.23 430.3 592.17 457.05 561.08M406.28 620.83C416.51 607.57 427.78 596 458.47 560.1M411.11 621.09C428.45 599.34 446.16 580.46 463.37 559.73M410.47 620.93C425.38 601.6 441.46 584.25 462.74 560.42M415.82 621.03C435.91 598.34 454.81 575.6 466.2 559.42M415.13 620.54C427.33 605.25 441.16 590.28 467.43 560.01M418.87 620.67C434.84 602.07 452.92 582.45 470.79 561.33M419.68 620.36C430.62 608.07 441.21 594.79 471.6 560.21M423.07 619.96C441 599.64 459.75 580.39 476.63 560.2M423.91 620.61C444.03 597.62 463.78 574.03 475.84 560.43M428.2 620.41C441.62 604.93 454.8 590.6 481.44 559.73M428.71 620.93C442.72 603.15 457.13 586.79 480.68 560.44M432.3 621.23C444.6 607.92 455.99 594.75 480.77 565.47M433.17 620.3C444.07 608.28 455.3 594.45 480.91 565.41M436.63 621.27C447.5 608.05 459.64 594.27 479.8 570.07M437.17 620.88C446.48 609.34 457.23 598.5 480.86 570.4M441.86 620.89C450.47 610.79 458.84 601.59 481.32 575.15M442.03 620.02C450.32 611.64 458.3 602.19 479.96 576.01M447.17 620.82C455.66 610.87 461.8 602.53 481.34 581.27M446.28 620.6C454.98 611.18 462.7 601.13 480.51 581.05M451.18 621.56C456.65 613.4 462.98 605.17 480.02 586.27M451.2 620.39C462.31 607.53 472.3 595.15 480.63 586.64M456.33 620.48C461.24 613.87 464.96 608.64 481.51 590.78M455.73 620.16C463.39 611.89 470.23 602.61 480.42 591.13M459.28 620.9C466.93 612.4 473.57 603.62 479.92 596.68M460.42 619.99C465.15 614.77 469.45 609.62 480.04 596.63M464.11 620.54C468.15 615.66 473.77 609.24 480.4 601.99M464.47 621.04C469.67 615.26 473.92 609.46 480.31 602.09M469.43 621.05C472.94 615.14 476.92 610.95 480.46 607.17M468.75 620.84C471.08 618.09 473.14 615.15 480.06 607.17M473.7 620.39C475.6 617.82 478.96 615.16 481.08 612.8M473.39 620.73C475.1 618.41 477.37 615.88 480.28 612.46M478.02 620.45C478.46 619.75 479.15 619.22 480.55 617.42M478.03 620.58C478.83 619.36 479.96 618.2 480.45 617.47" fill="none" stroke="#dae8fc" stroke-width="0.75" />
<path d="M361.26 560C393.45 561.49 425.33 560.19 480.13 559.56M360.23 560.86C388.57 560.55 417.39 560.59 480.1 560.72M481.28 559.65C481.24 575.01 480.47 591.28 479.6 620.59M480.54 560C480.74 580.61 480.06 599.31 480.59 620.65M480.16 620.57C446.57 620.35 411.85 621.44 359.86 620.5M480 620.79C453.7 621.1 426.73 620.95 360.31 621.03M361.06 621.16C359.57 606.48 359.59 590.48 359.59 561.17M360.11 620.85C360.71 599.22 361 578.49 359.99 561.04" fill="none" stroke="#6c8ebf" stroke-width="1.0" />
<path d="M540.46 563.43C541.14 562.58 541.77 561.59 542.92 560.35M540.6 563.32C541.46 562.42 542.28 561.26 542.98 560.53M540.22 568.89C542.16 566.39 544.32 564.92 547.25 559.97M540.51 568.39C543.03 565.23 545.97 561.92 547.61 560.63M541.31 573.68C543.35 570.96 545.33 568.37 551.08 559.81M540.54 573.89C543.25 570.31 546.19 567.66 552.27 560.65M539.6 578.08C545.29 572.57 553.11 564.75 556.92 561.47M540.23 578.56C545.68 572.42 552.33 565.45 556.12 560.38M540.41 583.08C543.74 578.48 549.4 575.18 561.02 559.63M540.08 584.02C545.88 578.16 550.92 573.12 560.94 560.2M541.29 588.64C546.21 581.32 551.87 575.1 564.69 559.57M540.54 589.25C550.63 577.81 560.5 565.87 565.66 560.69M541.17 594.96C549.76 582.4 560.21 571.52 569.81 560.26M540.64 594.16C547.62 586.22 554.47 578.22 569.5 560.64M539.89 599.65C548.87 591.37 556.28 581.91 575.06 561.41M540.51 599.33C550.84 587.52 561.29 576.1 574.97 560.07M541.59 605.52C549.17 594.91 555.36 586.85 579.6 559.66M540.43 604.48C555.19 587.22 570.14 570.03 579.23 560.81M539.65 610.81C555.61 591.51 570.81 574.11 584.07 560.22M541 609.91C549.73 600.24 558.08 590.32 583.6 560M540.32 616.21C558.82 592.32 577.51 571.27 588.81 560.38M540.13 615.61C558.74 593.91 577.57 573.22 587.95 560.88M540.58 621.41C550.77 608.02 562.32 594.75 591.77 560.34M540.04 620.58C554.25 605.19 566.91 589.48 593.05 560.44M545.76 619.97C562.74 599.95 582.16 579.55 596 559.65M544.84 620.87C564.35 598.09 584.33 574.37 596.72 560.04M550.34 620.3C564.49 603.74 579.43 587.21 602.29 561.08M549.17 620.78C562.98 604.41 577.36 588.42 601.1 559.95M553.4 619.63C564.8 607.81 574.35 594.94 605.52 560.32M554.38 620.62C565.41 606.79 576.93 593.55 606.56 561.02M559.35 621.07C570.59 605.67 581.75 593.76 611.47 561.35M558.3 620.32C572.13 604.33 585.59 587.72 611.12 560.4M563.35 620.57C576.51 602.56 591.75 586.34 616.14 560.49M562.83 620.65C574.73 606.76 586.19 592.93 615.55 560.91M567.27 619.73C585.96 599.42 605.8 576.98 618.78 560.69M567.9 620.25C587.33 598.39 607.38 575 619.4 560.22M571.39 621.22C581.93 607.29 592.63 596.02 623.52 559.99M571.44 620.33C587.1 601.82 603.69 583.55 624 560.29M576.68 621.37C597.2 595.61 616.74 573.74 628.7 561.02M576.06 620.19C592.69 602.07 608.74 582.92 628.5 560.27M581.58 620.22C592.82 607.85 602.93 595.02 633.77 559.52M580.56 620.11C592.22 607.08 604.04 593.96 632.74 560.72M585.64 620.59C601.89 600.29 619.9 580.88 636.74 560.32M585.91 620.84C601.16 603.05 616.93 584.54 637.65 560.02M589.98 619.94C607.01 602.55 624.06 581.27 642.31 560.61M589.8 620.32C610.47 598.15 630.2 575.01 642.03 560.25M595.17 620.4C608.73 603.4 625.07 585.86 646.2 560.53M594.18 620.62C614.8 596.74 634.98 573.18 647.06 560.69M598.61 620.74C615.12 600.97 632.87 580.84 651.84 560.05M599.4 620.97C610.78 606.42 624.04 592.26 651.27 560.1M603.93 620.08C617.76 604.3 632.91 586.34 656.71 560.07M602.97 621.03C624.01 596.9 645.02 573.27 655.09 560.32M608.59 620.98C619.25 607.75 629.77 595.3 660.4 561.12M607.66 620.96C622.89 603.82 636.49 587.46 660.4 560.27M613.15 620.98C629.2 601.67 645.93 582.35 660.84 565.39M612.99 620.57C625.21 605.73 637.05 591.6 660.16 565.12M617.34 619.67C631.37 605.4 645.23 588.19 660.17 570.93M617.39 620.8C633.01 601.68 648.95 583.26 660.88 570.51M621.23 619.7C629.93 610.27 639.18 598.56 659.48 576.23M621.88 619.96C635.15 604.8 647.42 589.97 660.56 575.79M625.03 619.77C634.97 609.63 642.32 600.54 660.7 579.73M625.49 620.63C632.54 612.8 639.95 604.64 660.21 580.75M631.07 620.02C641.94 607.83 654.68 592.41 660.57 585.58M630.56 620.1C640.48 608.41 650.45 597.21 660.35 585.7M634.27 620.46C642.02 614.65 647.51 606.82 660.68 591.12M635.42 620.19C645.07 610.01 653.98 598.26 660.9 591.59M640.45 620.2C646.19 614.16 652.22 605.75 660.69 595.87M639.53 620.2C647.7 612.09 654.55 602.59 660.93 595.94M643.58 619.5C649.77 614.83 654.87 607.77 659.65 602.39M644.15 620.52C647.62 616.75 651.19 612.47 660.19 601.6M648.01 621.27C652.8 616 658.01 611.44 661.1 607.08M648.58 620.12C652.1 617.07 655.39 613.01 660.34 606.8M653.21 621.12C656.03 617.61 658.66 613.43 660.99 611.87M652.8 620.53C655.78 617.77 657.72 614.99 660.79 612.17M657.6 620.32C658.27 619.42 658.82 619 660.56 616.96M657.57 620.45C658.37 619.54 659.31 618.37 660.48 617.08" fill="none" stroke="#e1d5e7" stroke-width="0.75" />
<path d="M540.11 560.36C582.48 560.41 624.51 560.95 660.91 560.26M540.49 561.04C571.19 560.35 603.1 560.07 660.76 560.73M661.02 561.04C660.67 583.47 659.51 606.3 660.16 621.05M660.37 560.41C660.67 583.92 660.46 607.55 660.34 620.92M660.54 619.47C612.07 620.96 564.32 621.42 541.42 620M660.93 620.65C636.44 620.11 611.63 619.88 540.66 620.98M540.23 620.05C540.34 606.52 540.83 592.84 540.07 561.33M539.98 620.38C540.77 606.33 539.86 592.47 540.13 560.53" fill="none" stroke="#9673a6" stroke-width="1.0" />
<path d="M30.71 450.38C48.5 450.1 72.5 450.1 90.32 450.73M30.23 450.48C48.5 451.3 72.5 451.3 90.54 450.58M90.25 450.59C92.36 462.5 92.36 478.5 90.5 490.75M90.17 450.82C88.77 462.5 88.77 478.5 90.27 490.72M90.51 490.73C72.5 490.77 48.5 490.77 30.28 490.38M90.21 490.7C72.5 491.43 48.5 491.43 30.52 490.29M30.28 490.21C29.7 478.5 29.7 462.5 30.29 450.54M30.46 490.64C30.9 478.5 30.9 462.5 30.2 450.74" fill="none" stroke="#000" stroke-width="1.1" />
<path d="M204.84 450.67C222.5 449.3 246.5 449.3 264.67 450.74M204.22 450.47C222.5 450.77 246.5 450.77 264.21 450.7M264.53 450.22C264.77 462.5 264.77 478.5 264.46 490.69M264.54 450.24C264.1 462.5 264.1 478.5 264.81 490.19M264.74 490.83C246.5 492.1 222.5 492.1 204.68 490.81M264.52 490.3C246.5 490.23 222.5 490.23 204.48 490.67M204.69 490.42C202.77 478.5 202.77 462.5 204.81 450.17M204.5 490.18C204.23 478.5 204.23 462.5 204.4 450.84" fill="none" stroke="#000" stroke-width="1.1" />
<path d="M384.23 450.84C402.5 448.77 426.5 448.77 444.78 450.63M384.19 450.48C402.5 450.37 426.5 450.37 444.63 450.22M444.36 450.21C445.17 462.5 445.17 478.5 444.74 490.79M444.8 450.68C444.1 462.5 444.1 478.5 444.55 490.19M444.49 490.68C426.5 492.1 402.5 492.1 384.68 490.17M444.16 490.21C426.5 490.37 402.5 490.37 384.8 490.23M384.42 490.48C383.7 478.5 383.7 462.5 384.77 450.24M384.33 490.69C384.37 478.5 384.37 462.5 384.21 450.26" fill="none" stroke="#000" stroke-width="1.1" />
<path d="M580.17 450.82C598.5 450.23 622.5 450.23 640.31 450.5M580.42 450.84C598.5 450.77 622.5 450.77 640.65 450.57M640.49 450.34C642.23 462.5 642.23 478.5 640.74 490.22M640.59 450.36C638.9 462.5 638.9 478.5 640.34 490.47M640.28 490.56C622.5 491.96 598.5 491.96 580.2 490.16M640.25 490.21C622.5 490.63 598.5 490.63 580.76 490.51M580.63 490.7C579.97 478.5 579.97 462.5 580.27 450.82M580.42 490.47C580.77 478.5 580.77 462.5 580.49 450.64" fill="none" stroke="#000" stroke-width="1.1" />
<path d="M324.3 270.5C322 300 321.6 340 324.4 373M324.6 270.2C326 305 325.8 345 324.6 373" fill="none" stroke="#000" stroke-width="1.1" />
<path d="M324.5 379.5 L320.8 371.5 L324.5 373.5 L328.2 371.5 Z" fill="#000" stroke="#000" stroke-width="1" stroke-linejoin="round"/>
<path d="M324.67 440.2C325.03 460 324.77 480 324.84 500.5M325.12 440.2C325.26 460 324.88 480 324.84 500.5M323.84 440.2C325.3 460 324.9 480 324.45 500.5M324.71 440.2C323.8 460 324.15 480 325.06 500.5M324.46 440.2C324.58 460 324.54 480 324.15 500.5M324.6 440.2C323.99 460 324.25 480 323.82 500.5M324.19 440.2C324.98 460 324.74 480 325.08 500.5M324.02 440.2C323.85 460 324.17 480 324.92 500.5M324.5 500.4C240 500.2 150 500.6 60.5 500.8M324.5 501.9C250 502.4 160 501.3 60.8 500.4M324.5 500.1C300 500 270 500.1 240.5 500.2M324.5 501.6C300 502 270 502 240.8 501.4M324.5 499.9C350 499.6 390 499.6 420.5 499.8M324.5 500.7C350 500.9 390 501 420.5 500.6M324.5 500.1C420 497.6 500 497.4 600.5 499.6M324.5 500.9C420 502.1 500 501.9 600.5 500.3M60.5 500.6C61.5 520 62.5 535 61.2 552M61 500.9C62 515 61.5 540 61.5 552M239.6 500.3C239.4 520 239.5 540 240.2 552M241.6 500.6C241.8 520 241.7 540 240.6 552M419.8 499.8C419.6 520 419.8 540 420.3 552M420.4 500.4C420.6 520 420.4 540 420.1 552M600.4 499.7C600.8 520 601 540 600.6 552M600.9 500.2C601.3 520 600.9 540 600.9 552" fill="none" stroke="#000" stroke-width="1.15" stroke-dasharray="8.5 7.7" stroke-linecap="butt"/>
<path d="M61.2 559.6 L57.6 552.2 L61.2 553.4 L64.8 552.2 Z" fill="#000" stroke="#000" stroke-width="0.9" stroke-linejoin="round"/>
<path d="M240.5 559.6 L236.9 552.2 L240.5 553.4 L244.1 552.2 Z" fill="#000" stroke="#000" stroke-width="0.9" stroke-linejoin="round"/>
<path d="M420.3 559.6 L416.7 552.2 L420.3 553.4 L423.9 552.2 Z" fill="#000" stroke="#000" stroke-width="0.9" stroke-linejoin="round"/>
<path d="M600.7 559.6 L597.1 552.2 L600.7 553.4 L604.3 552.2 Z" fill="#000" stroke="#000" stroke-width="0.9" stroke-linejoin="round"/>
<path d="M404.15 287.52C410.5 286.8 415.55 287.12 421.31 286.51M404.59 287.9C410.28 286.48 414.93 286.56 421.53 285.94M406.05 292.23C418.82 291.06 433.92 290.23 449.89 289.43M405.41 291.71C422.47 290.76 440.67 288.35 449.88 288.36M406.34 295.91C414.27 294.96 424.6 293.7 446.32 293.33M405.96 296.31C421.52 294.58 437.36 293.79 446.2 293.36M404.72 300.18C419.05 299.23 432.85 297.51 441.97 297.68M405.67 300.02C414.48 300.14 423.09 299.42 441.17 297.45M406.74 303.23C413.1 304.79 419.14 303.58 437.58 302.53M405.79 304.4C415.94 303.58 425.4 302.05 437.48 301.72M406.16 309.2C417.68 307 429.7 306.99 439.31 306.2M406.53 307.75C415.1 308.22 424.35 307.03 438.33 306.39M407.77 313.15C415.14 313.05 424.88 311.25 442.87 310.69M407.03 313.04C415.07 311.46 423.39 311.4 443.07 310.35M408.11 316.99C416.13 316.68 423.82 316.29 446.91 314.27M406.73 317.25C416.65 316.07 424.88 316.06 446.25 313.96M407.56 320.92C411.4 321.06 413.96 320.8 418.74 320.14M407.24 321.1C409.56 320.5 411.87 320.72 417.9 320.14M424.7 320.41C434.34 318.13 443.85 319.19 450.16 317M425.36 319.93C431.95 319.19 437.47 318.15 450.64 317.78M407.47 325.08C409.26 325.01 411.26 324.76 412.83 324.99M407.85 325.09C409.45 325.08 410.94 324.72 412.99 324.73M430.45 324.17C436.22 322.61 441.67 322.69 455.18 320.91M429.52 323.87C435.99 323.25 441.42 322.14 454.24 322.14M433.47 328.54C442.68 327.99 453.57 327.1 459.66 326.18M434.03 327.3C440.02 326.53 445.31 326.35 458.09 326.05M436.64 330.8C446.2 331.23 457.08 330.95 461.87 329.47M438.14 331.37C443.93 331.51 450.43 330.37 462.68 329.42M441.28 335.87C447.59 334.82 452.23 334.49 465.17 333.75M441.97 335.01C447.22 335.05 453.04 334.64 466.54 333.39M444.74 338.34C455.05 338.28 464.91 339.27 470.14 337.02M446.24 339.87C451.7 339.06 457.53 337.91 470.49 337.41M448.63 343.79C457.91 343.39 464.39 341.83 474.48 341.19M450.2 342.75C457.95 342.63 467.24 342.51 474.63 341.13M452.99 346.3C460.93 346.82 467.71 346.62 478.72 346.47M453.69 346.73C461.36 346.96 468.63 345.54 477.62 345.27M457.1 350.72C463.81 349.72 470.28 351.28 480.86 349.11M458.11 351.61C466.16 350.95 475.43 350.11 481.7 348.83M462.89 356.16C468.82 354.46 477.12 352.93 486.14 352.52M461.59 355.45C470.57 353.81 478.7 353.44 486.47 353.8M465.11 358.44C475.35 358.57 482.52 358.44 490.27 356.07M465.21 358.35C474.57 358.52 483.88 357.3 489.67 357.13M468.66 362.63C475.36 361.44 481.07 362.55 492.78 361.18M470.04 363.31C477.04 361.75 485.68 361.46 493.76 360.96M474.46 366.13C478.3 366.66 485.69 365.83 497.22 366.03M473.79 366.67C482.5 366.18 490.87 365.99 498.19 365.24M476.73 370.97C484.1 371.29 489.98 369.02 501.81 367.98M477.5 371.28C483.28 370.66 490.16 370.41 501.2 368.99M480.79 373.63C488.72 374.8 494.55 374.6 506.36 373.8M481.11 375.24C487.5 374.55 493.24 373.68 504.99 372.74M486.58 377.55C492.65 377.99 499.68 377.95 509.26 378.12M485.97 379.17C494.05 377.54 502.61 377.49 509.42 376.44M490.07 381.92C497.75 383.1 504.52 380.73 512.76 380.86M489.23 383.03C496.97 382.16 505.03 381.3 513.3 381.04M494.33 387.02C500.28 384.79 504.5 385.77 517.91 383.72M493.04 386.51C500.39 386.1 506.6 385.33 516.78 384.83M497.52 389.83C503.79 390.48 508.52 389.56 521.88 387.92M497.68 390.96C505.38 389.57 514.39 388.78 520.95 388.95M502.32 393.82C507.73 394.07 514.95 393.14 526.09 393.48M501.4 394.64C509.84 393.31 517.38 393.57 525.29 392.6M506.55 397.17C510.93 399.04 517.97 396.64 528.49 396.48M505.04 397.96C510.91 397.63 515.99 397.46 529.07 396.59M509.83 403.24C514.73 401.8 519.59 401.19 529.66 401.95M509.06 401.61C515.44 401.34 521.48 400.94 529.8 400.68M513.23 406.15C516.17 406.43 518.84 404.97 525.77 405.63M513.52 406.16C516.77 405.78 520.16 405.43 524.98 405.23M517.67 409.94C518.33 410.03 519.65 410.09 520.68 410M517.57 410.1C518.64 409.93 519.84 409.78 520.67 409.75" fill="none" stroke="#efefef" stroke-width="0.7" />
<path d="M404.5 285.2C420 285.5 435 286.5 450.3 288.1M405.5 284.6C420 286.3 436 287 449.5 288.5M450.3 288.1L436 303.2M449.8 288.8L436.5 302.6M436 303.2C468 335 500 367 531.5 399M436.6 302.9C467 334.5 499 366.2 531 399.5M531.5 399L519 411.5M531 399.8L519.6 411M519 411.5C487 379.5 455 348 422.5 316.3M514 405.9C485.6 374.4 455.2 344.9 423 317.2M422.5 316.3L408.1 329.1M421.8 316.9L408.6 328.4M408.1 329.1C406 314 405 300 404.5 285.2M407.5 328C406.5 313 404.2 298 405 286" fill="none" stroke="#4a4a4a" stroke-width="0.95" />
<g fill="#000" stroke="#000" stroke-width="0.2">
<text x="253" y="25.5" font-size="14" text-anchor="middle" font-family='"Liberation Sans",sans-serif' >ip</text>
<text x="408.2" y="25.75" font-size="14" text-anchor="middle" font-family='"Liberation Sans",sans-serif' >mac</text>
<text x="252.7" y="66" font-size="14" text-anchor="middle" font-family='"Liberation Sans",sans-serif' >10.168.10.1</text>
<text x="408.2" y="66.8" font-size="14.2" text-anchor="middle" font-family='"Liberation Mono",monospace' stroke="none" textLength="145" lengthAdjust="spacing">80:69:1a:ff:1e:0e</text>
<text x="523.5" y="59.1" font-size="16.4" text-anchor="start" font-family='"Liberation Sans",sans-serif'  textLength="255.3" lengthAdjust="spacing">3. 将ip和mac缓存到mac地址映射表</text>
<text x="324.6" y="247.6" font-size="18.7" text-anchor="middle" font-family='"Liberation Sans",sans-serif' >src-pc</text>
<text x="324.8" y="417.8" font-size="18.6" text-anchor="middle" font-family='"Liberation Sans",sans-serif' >hub</text>
<text x="491.2" y="341" font-size="14.3" text-anchor="start" font-family='"Liberation Sans",sans-serif'  textLength="200" lengthAdjust="spacing">2. 回复告知目标主机主机的mac</text>
<text x="46.5" y="409.3" font-size="14.3" text-anchor="start" font-family='"Liberation Sans",sans-serif'  textLength="210" lengthAdjust="spacing">1. 广播获取目标ip对应的mac地址</text>
<text x="60.45" y="476.4" font-size="16.4" text-anchor="middle" font-family='"Liberation Sans",sans-serif' >arp</text>
<text x="234.6" y="475.6" font-size="15.4" text-anchor="middle" font-family='"Liberation Sans",sans-serif' >arp</text>
<text x="414.45" y="476.6" font-size="16.4" text-anchor="middle" font-family='"Liberation Sans",sans-serif' >arp</text>
<text x="610.35" y="476.4" font-size="14.4" text-anchor="middle" font-family='"Liberation Sans",sans-serif' >arp</text>
<text x="60.75" y="597.9" font-size="18.7" text-anchor="middle" font-family='"Liberation Sans",sans-serif' >pc-0</text>
<text x="240.5" y="597.9" font-size="18.7" text-anchor="middle" font-family='"Liberation Sans",sans-serif' >pc-1</text>
<text x="420.5" y="597.9" font-size="18.7" text-anchor="middle" font-family='"Liberation Sans",sans-serif' >pc-2</text>
<text x="600.5" y="597.9" font-size="18.7" text-anchor="middle" font-family='"Liberation Sans",sans-serif' >pc-3</text>
</g>
</svg>
</body></html>
